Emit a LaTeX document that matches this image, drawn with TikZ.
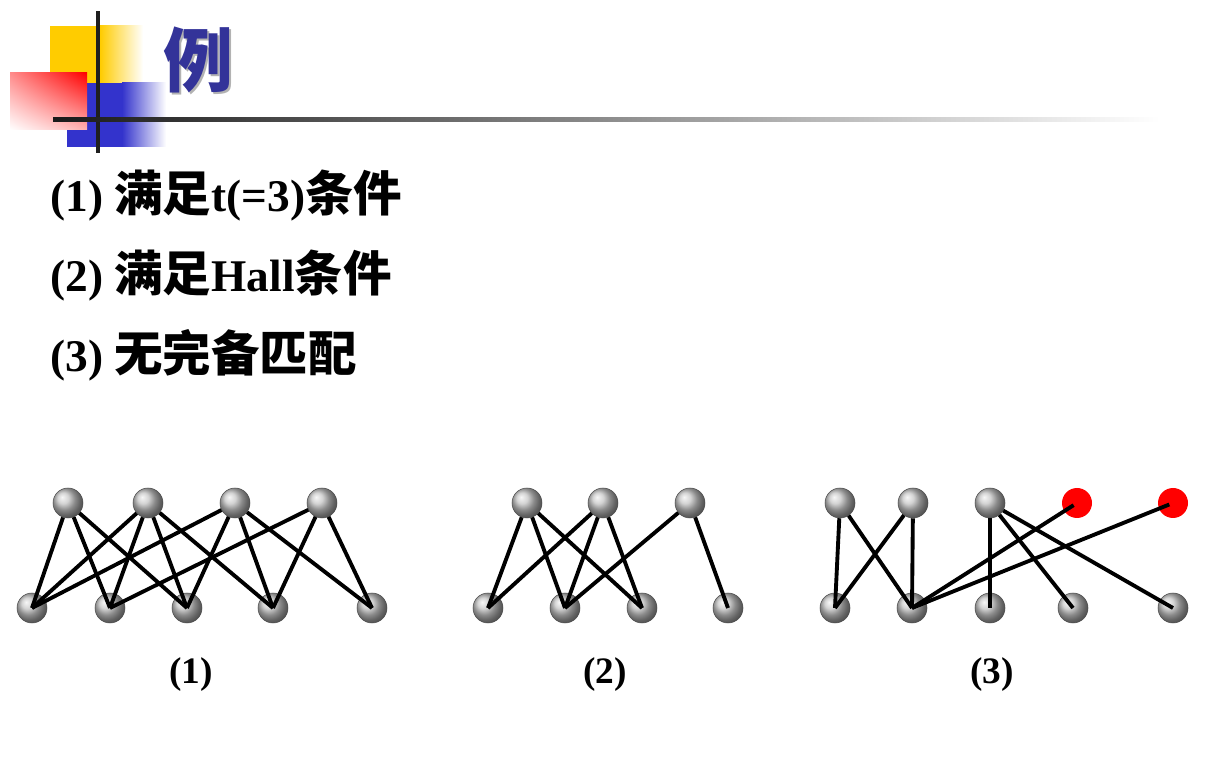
\documentclass[tikz,border=0pt]{standalone}
\usepackage{fontspec}
\setmainfont{Liberation Serif}
\newfontfamily\cjk{Noto Sans CJK SC}[Scale=1.07]
\newcommand\zh[1]{{\cjk\bfseries #1}}
\usetikzlibrary{shadings}
\definecolor{deckyellow}{HTML}{FFCC00}
\definecolor{deckblue}{HTML}{3333CC}
\definecolor{titleblue}{HTML}{333399}
\begin{document}
\begin{tikzpicture}[x=0.75pt,y=-0.75pt,
  ball/.style={circle,inner sep=0pt,minimum size=22.5pt,shading=ball,ball color=gray!45,draw=black!70,line width=0.4pt},
  badball/.style={circle,inner sep=0pt,minimum size=22.5pt,fill=red},
  edge/.style={line width=2.9pt,black},
  redge/.style={line width=2.9pt,black,shorten <=3pt},
  txt/.style={anchor=base west,inner sep=0pt,font=\fontsize{34}{40}\selectfont\bfseries},
  lab/.style={anchor=base,inner sep=0pt,font=\fontsize{28}{32}\selectfont\bfseries}]
\useasboundingbox (0,0) rectangle (1218,762);
% slide decoration
\fill [deckyellow] (50,26) rectangle (100,83);
\shade [left color=deckyellow,right color=white] (100,26) rectangle (143,83);
\fill [deckblue] (67,83) rectangle (122,147);
\shade [left color=deckblue,right color=white] (122,83) rectangle (166,147);
\shade [upper left=red!45,upper right=red,lower left=white,lower right=red!30] (10,73) rectangle (87,130);
\fill [black!88] (96,11) rectangle (100,153);
\shade [left color=black!90,middle color=black!50,right color=white] (53,118) rectangle (1160,122);
\node [text=black!30,font=\cjk\bfseries\fontsize{49}{56}\selectfont,inner sep=0pt] (shadow) at (200,62) {例};
\node [text=titleblue,font=\cjk\bfseries\fontsize{49}{56}\selectfont,inner sep=0pt] (title) at (198,60) {例};
% statements
\node [txt] (l1) at (50,212) {(1) \zh{满足}t(=3)\zh{条件}};
\node [txt] (l2) at (50,292) {(2) \zh{满足}Hall\zh{条件}};
\node [txt] (l3) at (50,372) {(3) \zh{无完备匹配}};
% graph (1)
\node [ball] (au1) at (68,503) {};
\node [ball] (au2) at (148,503) {};
\node [ball] (au3) at (235,503) {};
\node [ball] (au4) at (322,503) {};
\node [ball] (av1) at (32,608) {};
\node [ball] (av2) at (110,608) {};
\node [ball] (av3) at (187,608) {};
\node [ball] (av4) at (273,608) {};
\node [ball] (av5) at (372,608) {};
\draw [edge] (au1) -- (av1.center);
\draw [edge] (au1) -- (av2.center);
\draw [edge] (au1) -- (av3.center);
\draw [edge] (au2) -- (av1.center);
\draw [edge] (au2) -- (av2.center);
\draw [edge] (au2) -- (av3.center);
\draw [edge] (au2) -- (av4.center);
\draw [edge] (au3) -- (av1.center);
\draw [edge] (au3) -- (av3.center);
\draw [edge] (au3) -- (av4.center);
\draw [edge] (au3) -- (av5.center);
\draw [edge] (au4) -- (av2.center);
\draw [edge] (au4) -- (av4.center);
\draw [edge] (au4) -- (av5.center);
\node [lab] (cap1) at (191,683) {(1)};
% graph (2)
\node [ball] (bu1) at (527,503) {};
\node [ball] (bu2) at (603,503) {};
\node [ball] (bu3) at (690,503) {};
\node [ball] (bv1) at (488,608) {};
\node [ball] (bv2) at (565,608) {};
\node [ball] (bv3) at (642,608) {};
\node [ball] (bv4) at (728,608) {};
\draw [edge] (bu1) -- (bv1.center);
\draw [edge] (bu1) -- (bv2.center);
\draw [edge] (bu1) -- (bv3.center);
\draw [edge] (bu2) -- (bv1.center);
\draw [edge] (bu2) -- (bv2.center);
\draw [edge] (bu2) -- (bv3.center);
\draw [edge] (bu3) -- (bv2.center);
\draw [edge] (bu3) -- (bv4.center);
\node [lab] (cap2) at (605,683) {(2)};
% graph (3)
\node [ball] (cu1) at (840,503) {};
\node [ball] (cu2) at (913,503) {};
\node [ball] (cu3) at (990,503) {};
\node [badball] (cr1) at (1077,503) {};
\node [badball] (cr2) at (1173,503) {};
\node [ball] (cv1) at (835,608) {};
\node [ball] (cv2) at (912,608) {};
\node [ball] (cv3) at (990,608) {};
\node [ball] (cv4) at (1073,608) {};
\node [ball] (cv5) at (1173,608) {};
\draw [edge] (cu1) -- (cv1.center);
\draw [edge] (cu1) -- (cv2.center);
\draw [edge] (cu2) -- (cv1.center);
\draw [edge] (cu2) -- (cv2.center);
\draw [edge] (cu3) -- (cv3.center);
\draw [edge] (cu3) -- (cv4.center);
\draw [edge] (cu3) -- (cv5.center);
\draw [redge] (cr1.center) -- (cv2.center);
\draw [redge] (cr2.center) -- (cv2.center);
\node [lab] (cap3) at (992,683) {(3)};
\end{tikzpicture}
\end{document}
